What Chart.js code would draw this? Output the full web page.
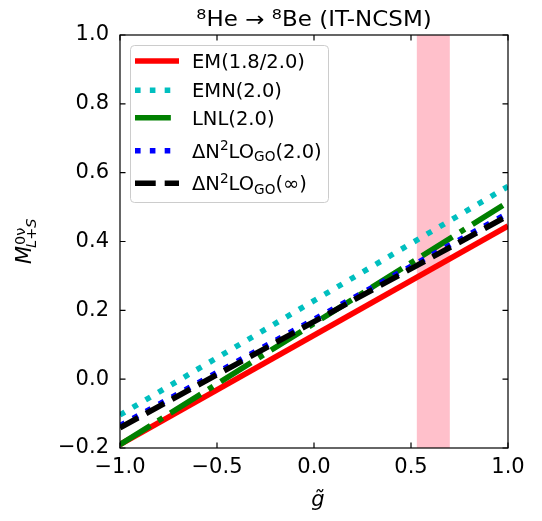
<!DOCTYPE html>
<html>
<head>
<meta charset="utf-8">
<script src="https://cdn.jsdelivr.net/npm/chart.js@4.4.1/dist/chart.umd.min.js"></script>
<style>
  html, body { margin: 0; padding: 0; background: #fff; }
</style>
</head>
<body>
<canvas id="graficaNME" width="542" height="521"></canvas>
<script>
// valores de g~ en los extremos del eje x
const gTilde = [-1.0, 1.0];
// M^{0v}_{L+S} para cada interaccion (en g~ = -1 y g~ = 1)
const serieEM = [-0.19, 0.445];
const serieEMN = [-0.104, 0.56];
const serieLNL = [-0.19, 0.514];
const serieGO = [-0.135, 0.482];
const serieGOinf = [-0.141, 0.475];
// rango de g~ sombreado en rosa
const bandaG = [0.53, 0.70];
// ticks de los ejes
const ticksX = [-1.0, -0.5, 0.0, 0.5, 1.0];
const ticksY = [-0.2, 0.0, 0.2, 0.4, 0.6, 0.8, 1.0];
// etiquetas de la leyenda (^{} superindice, _{} subindice)
const etiquetas = ['EM(1.8/2.0)', 'EMN(2.0)', 'LNL(2.0)', 'ΔN^{2}LO_{GO}(2.0)', 'ΔN^{2}LO_{GO}(∞)'];
const titulo = '^{8}He → ^{8}Be (IT-NCSM)';

const FUENTE = '"DejaVu Sans"';
const LW = 5.6; // grosor de las lineas

function puntos(vals) {
  return gTilde.map((g, i) => ({ x: g, y: vals[i] }));
}

function menos(v) { // signo menos tipografico
  if (Math.abs(v) < 1e-9) v = 0;
  return v.toFixed(1).replace('-', '\u2212');
}

// separa un texto en partes normales, superindices y subindices
function partes(str) {
  const out = [];
  const re = /(\^|_)\{([^}]*)\}/g;
  let last = 0, m;
  while ((m = re.exec(str))) {
    if (m.index > last) out.push({ t: str.slice(last, m.index), tipo: 'normal' });
    out.push({ t: m[2], tipo: m[1] === '^' ? 'sup' : 'sub' });
    last = re.lastIndex;
  }
  if (last < str.length) out.push({ t: str.slice(last), tipo: 'normal' });
  return out;
}

function textoRico(ctx, str, x, y, size, align) {
  const segs = partes(str);
  let total = 0;
  segs.forEach(s => {
    s.sz = s.tipo === 'normal' ? size : size * 0.7;
    ctx.font = `${s.sz}px ${FUENTE}`;
    s.w = ctx.measureText(s.t).width;
    total += s.w;
  });
  let cx = align === 'center' ? x - total / 2 : x;
  ctx.textAlign = 'left';
  ctx.textBaseline = 'alphabetic';
  ctx.fillStyle = '#000';
  segs.forEach(s => {
    const dy = s.tipo === 'sup' ? -0.36 * size : s.tipo === 'sub' ? 0.2 * size : 0;
    ctx.font = `${s.sz}px ${FUENTE}`;
    ctx.fillText(s.t, cx, y + dy);
    cx += s.w;
  });
}

const datasets = [
  { label: etiquetas[0], data: puntos(serieEM), borderColor: '#ff0000', borderDash: [], order: 5 },
  { label: etiquetas[1], data: puntos(serieEMN), borderColor: '#00bfbf', borderDash: [1 * LW, 1.65 * LW], order: 4 },
  { label: etiquetas[2], data: puntos(serieLNL), borderColor: '#008000', borderDash: [6.4 * LW, 1.6 * LW, 1 * LW, 1.6 * LW], order: 3 },
  { label: etiquetas[3], data: puntos(serieGO), borderColor: '#0000ff', borderDash: [1 * LW, 1.65 * LW], order: 2 },
  { label: etiquetas[4], data: puntos(serieGOinf), borderColor: '#000000', borderDash: [3.7 * LW, 1.6 * LW], order: 1 }
].map(d => Object.assign(d, {
  showLine: true, borderWidth: LW, pointRadius: 0, borderCapStyle: 'butt', fill: false, clip: 0, tension: 0
}));

// banda rosa detras de las lineas
const pluginBanda = {
  id: 'banda',
  beforeDatasetsDraw(chart) {
    const { ctx, chartArea: a, scales: { x } } = chart;
    const x0 = x.getPixelForValue(bandaG[0]);
    const x1 = x.getPixelForValue(bandaG[1]);
    ctx.save();
    ctx.fillStyle = '#ffc0cb';
    ctx.fillRect(x0, a.top, x1 - x0, a.bottom - a.top);
    ctx.restore();
  }
};

// marco, ticks hacia adentro, leyenda, titulo y nombres de ejes
const pluginDecor = {
  id: 'decor',
  afterDraw(chart) {
    const { ctx, chartArea: a, scales: { x, y } } = chart;
    ctx.save();
    ctx.strokeStyle = '#000';
    ctx.lineWidth = 1.2;
    ctx.strokeRect(a.left, a.top, a.right - a.left, a.bottom - a.top);
    const tl = 5.5;
    ctx.beginPath();
    ticksX.forEach(v => {
      const px = x.getPixelForValue(v);
      ctx.moveTo(px, a.bottom); ctx.lineTo(px, a.bottom - tl);
      ctx.moveTo(px, a.top); ctx.lineTo(px, a.top + tl);
    });
    ticksY.forEach(v => {
      const py = y.getPixelForValue(v);
      ctx.moveTo(a.left, py); ctx.lineTo(a.left + tl, py);
      ctx.moveTo(a.right, py); ctx.lineTo(a.right - tl, py);
    });
    ctx.stroke();

    // leyenda
    const box = { l: 130, t: 45, r: 328, b: 202 };
    ctx.beginPath();
    ctx.roundRect(box.l + 0.5, box.t + 0.5, box.r - box.l, box.b - box.t, 4);
    ctx.fillStyle = 'rgba(255,255,255,0.8)';
    ctx.fill();
    ctx.strokeStyle = '#cccccc';
    ctx.lineWidth = 1;
    ctx.stroke();
    const filas = [61, 90.3, 117.7, 150.7, 183.3];
    chart.data.datasets.forEach((d, i) => {
      const yy = filas[i];
      ctx.beginPath();
      ctx.strokeStyle = d.borderColor;
      ctx.lineWidth = LW;
      ctx.lineCap = 'butt';
      ctx.setLineDash(d.borderDash);
      ctx.moveTo(135, yy); ctx.lineTo(179, yy);
      ctx.stroke();
      ctx.setLineDash([]);
      textoRico(ctx, d.label, 192, yy + 6.8, 19.5, 'left');
    });

    // titulo, un poco ensanchado
    ctx.save();
    ctx.translate(314, 26);
    ctx.scale(1.12, 1);
    textoRico(ctx, titulo, 0, 0, 20.5, 'center');
    ctx.restore();

    // eje x: g con tilde
    ctx.font = `italic 21px ${FUENTE}`;
    ctx.textAlign = 'center';
    ctx.textBaseline = 'alphabetic';
    ctx.fillStyle = '#000';
    ctx.fillText('g\u0303', 318, 506);

    // eje y: M^{0v}_{L+S} rotado
    ctx.translate(31, 264);
    ctx.rotate(-Math.PI / 2);
    ctx.textAlign = 'left';
    ctx.font = `italic 21px ${FUENTE}`;
    ctx.fillText('M', 0, 0);
    const wM = ctx.measureText('M').width;
    ctx.font = `14.5px ${FUENTE}`;
    ctx.fillText('0ν', wM + 1, -6);
    let sx = wM - 2;
    [['L', true], ['+', false], ['S', true]].forEach(([t, it]) => {
      ctx.font = `${it ? 'italic ' : ''}14.5px ${FUENTE}`;
      ctx.fillText(t, sx, 5);
      sx += ctx.measureText(t).width;
    });
    ctx.restore();
  }
};

const ctx = document.getElementById('graficaNME').getContext('2d');
const chart = new Chart(ctx, {
  type: 'scatter',
  data: { datasets: datasets },
  options: {
    responsive: false,
    animation: false,
    devicePixelRatio: 1,
    layout: { padding: { left: 0, right: 34, top: 35, bottom: 0 } },
    plugins: { legend: { display: false }, tooltip: { enabled: false }, title: { display: false } },
    scales: {
      x: {
        type: 'linear', min: -1, max: 1,
        afterBuildTicks: s => { s.ticks = ticksX.map(v => ({ value: v })); },
        afterFit: s => { s.height = 73; },
        grid: { display: false, drawTicks: false },
        border: { display: false },
        ticks: { color: '#000', font: { family: 'DejaVu Sans', size: 21 }, padding: 7, maxRotation: 0, callback: v => menos(v) }
      },
      y: {
        type: 'linear', min: -0.2, max: 1.0,
        afterBuildTicks: s => { s.ticks = ticksY.map(v => ({ value: v })); },
        afterFit: s => { s.width = 120; },
        grid: { display: false, drawTicks: false },
        border: { display: false },
        ticks: { color: '#000', font: { family: 'DejaVu Sans', size: 21 }, padding: 11, callback: v => menos(v) }
      }
    }
  },
  plugins: [pluginBanda, pluginDecor]
});
</script>
</body>
</html>
